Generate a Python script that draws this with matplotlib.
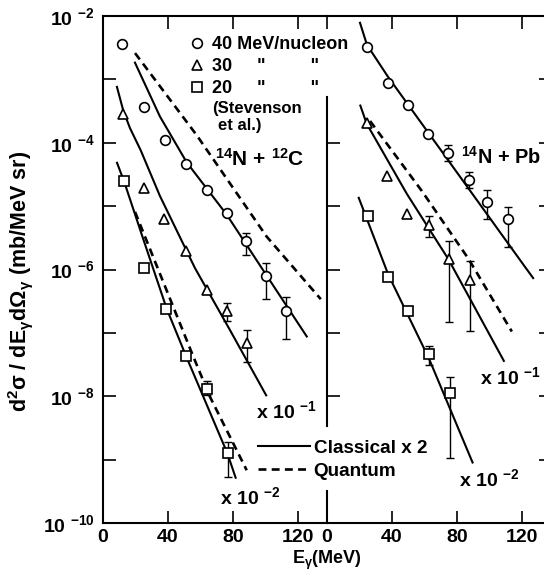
import numpy as np
import matplotlib
matplotlib.use("Agg")
import matplotlib.pyplot as plt
from matplotlib.lines import Line2D
from matplotlib.ticker import NullLocator

plt.rcParams['font.family'] = ['Liberation Sans', 'DejaVu Sans']
plt.rcParams['font.weight'] = 'bold'
plt.rcParams['mathtext.fontset'] = 'custom'
plt.rcParams['mathtext.rm'] = 'Liberation Sans:bold'
plt.rcParams['mathtext.it'] = 'Liberation Sans:italic:bold'
plt.rcParams['mathtext.bf'] = 'Liberation Sans:bold'
plt.rcParams['mathtext.default'] = 'rm'

# ---- 14N + 12C (left panel), Stevenson et al. data ----
c40_e = [11.5, 25.2, 38.3, 51.3, 64.2, 76.4, 88.0, 100.3, 112.6]
c40_y = [3.6e-3, 3.7e-4, 1.1e-4, 4.7e-5, 1.8e-5, 7.8e-6, 2.8e-6, 7.9e-7, 2.2e-7]
c40_hi = [None, None, None, None, None, None, 3.8e-6, 1.26e-6, 3.7e-7]
c40_lo = [None, None, None, None, None, None, 1.7e-6, 3.4e-7, 7.9e-8]

c30_e = [12.5, 25.3, 37.3, 50.8, 64.0, 76.3, 88.4]
c30_y = [2.8e-4, 1.95e-5, 6.2e-6, 1.95e-6, 4.8e-7, 2.2e-7, 6.9e-8]
c30_hi = [None, None, None, None, None, 2.95e-7, 1.1e-7]
c30_lo = [None, None, None, None, None, 1.55e-7, 3.5e-8]

c20_e = [13.0, 25.5, 38.8, 51.0, 64.0, 76.6]
c20_y = [2.5e-5, 1.07e-6, 2.35e-7, 4.3e-8, 1.3e-8, 1.26e-9]
c20_hi = [None, None, None, None, 1.75e-8, 1.9e-9]
c20_lo = [None, None, None, None, 1.05e-8, 5.4e-10]

# calculations (left)
c40_cl_e = [19.4, 35.0, 51.5, 76.0, 100.3, 125.7]
c40_cl_y = [1.9e-3, 2.6e-4, 4.9e-5, 7.4e-6, 8.3e-7, 8.5e-8]
c40_qu_e = [19.7, 57.6, 100.7, 134.0]
c40_qu_y = [2.6e-3, 1.32e-4, 3.3e-6, 3.4e-7]
c30_cl_e = [8.4, 12.5, 16.6, 23.2, 35.0, 56.6, 78.0, 100.7]
c30_cl_y = [7.9e-4, 3.2e-4, 1.7e-4, 7.6e-5, 1.45e-5, 1.05e-6, 1.12e-7, 1.0e-8]
c20_cl_e = [8.4, 13.1, 24.8, 39.2, 51.1, 76.5, 81.8]
c20_cl_y = [5.0e-5, 2.4e-5, 3.0e-6, 2.4e-7, 4.3e-8, 1.26e-9, 5.0e-10]
c20_qu_e = [19.7, 55.6, 65.8, 88.4]
c20_qu_y = [8.1e-6, 4.2e-8, 9.8e-9, 6.8e-10]

# ---- 14N + Pb (right panel) ----
p40_e = [24.6, 37.3, 49.6, 61.9, 74.6, 87.1, 98.6, 111.3]
p40_y = [3.2e-3, 8.9e-4, 3.9e-4, 1.38e-4, 6.9e-5, 2.6e-5, 1.17e-5, 6.2e-6]
p40_hi = [None, None, None, None, 9.3e-5, 3.5e-5, 1.8e-5, 9.8e-6]
p40_lo = [None, None, None, None, 5.2e-5, 1.95e-5, 6.2e-6, 2.3e-6]

p30_e = [24.4, 36.7, 49.0, 62.6, 74.8, 88.1]
p30_y = [2.05e-4, 2.95e-5, 7.4e-6, 5.0e-6, 1.48e-6, 6.8e-7]
p30_hi = [None, None, None, 7.1e-6, 2.8e-6, 1.38e-6]
p30_lo = [None, None, None, 3.3e-6, 1.5e-7, 1.07e-7]

p20_e = [25.5, 37.8, 50.1, 62.6, 75.5]
p20_y = [6.9e-6, 7.6e-7, 2.2e-7, 4.6e-8, 1.12e-8]
p20_hi = [None, None, None, 6.3e-8, 2.0e-8]
p20_lo = [None, None, None, 3.1e-8, 1.07e-9]

p40_cl_e = [20.1, 24.6, 37.3, 121.8, 127.2]
p40_cl_y = [8.1e-3, 3.5e-3, 1.12e-3, 1.1e-6, 7.1e-7]
p30_cl_e = [20.3, 24.4, 49.0, 74.7, 109.1]
p30_cl_y = [4.0e-4, 2.0e-4, 1.58e-5, 1.45e-6, 3.5e-8]
p30_qu_e = [26.5, 58.3, 87.0, 113.7]
p30_qu_y = [2.2e-4, 1.74e-5, 1.48e-6, 1.05e-7]
p20_cl_e = [19.3, 37.7, 62.6, 89.8]
p20_cl_y = [1.4e-5, 8.3e-7, 4.0e-8, 8.7e-10]

decades = [1e-2, 1e-3, 1e-4, 1e-5, 1e-6, 1e-7, 1e-8, 1e-9, 1e-10]
decade_labels = [r'10 $^{-2}$', '', r'10 $^{-4}$', '', r'10 $^{-6}$', '',
                 r'10 $^{-8}$', '', r'10 $^{-10}$']
e_ticks = [0, 40, 80, 120]


def points(ax, e, y, lo, hi, marker, ms):
    y = np.array(y)
    lo = np.array([np.nan if v is None else v for v in lo])
    hi = np.array([np.nan if v is None else v for v in hi])
    ax.errorbar(e, y, yerr=[y - lo, hi - y], fmt='none', ecolor='black',
                elinewidth=1.0, capsize=3, capthick=1.0, zorder=3)
    ax.plot(e, y, linestyle='none', marker=marker, ms=ms, mfc='white',
            mec='black', mew=1.2, zorder=4)


def solid(ax, e, y):
    ax.plot(e, y, color='black', lw=1.5, solid_capstyle='butt', zorder=2)


def dashed(ax, e, y):
    ax.plot(e, y, color='black', lw=1.9, dashes=(3, 2), zorder=2)


fig = plt.figure(figsize=(5.44, 5.76), dpi=100)
ax1 = fig.add_axes([103 / 544, 53 / 576, 224 / 544, 507 / 576])
ax2 = fig.add_axes([327 / 544, 53 / 576, 224 / 544, 507 / 576])
ax2.patch.set_visible(False)

for ax in (ax1, ax2):
    ax.set_yscale('log')
    ax.set_xlim(0, 137.8)
    ax.set_ylim(1e-10, 1e-2)
    ax.set_yticks(decades)
    ax.yaxis.set_minor_locator(NullLocator())
    ax.set_xticks(e_ticks)
    ax.set_xticklabels([str(t) for t in e_ticks])
    ax.tick_params(axis='x', direction='in', top=True, length=9, width=1.2,
                   labelsize=14, pad=4)
    for s in ax.spines.values():
        s.set_linewidth(1.5)

ax1.set_yticklabels(decade_labels)
ax1.tick_params(axis='y', direction='in', left=True, right=False, length=9,
                width=1.2, labelsize=14, pad=6)
ax1.spines['right'].set_visible(False)

ax2.set_yticklabels([''] * len(decades))
ax2.tick_params(axis='y', direction='in', left=False, right=True, length=9,
                width=1.2, labelleft=False)
ax2.spines['left'].set_visible(False)
# broken divider between the two panels
ax2.axvline(0, ymin=0.191, ymax=0.840, color='black', lw=1.5, clip_on=False)
ax2.axvline(0, ymin=0.0, ymax=0.063, color='black', lw=1.5, clip_on=False)
sec = ax2.secondary_yaxis('left')
sec.set_yticks([1e-4, 1e-5, 1e-6, 1e-7, 1e-8])
sec.yaxis.set_minor_locator(NullLocator())
sec.tick_params(axis='y', direction='in', length=9, width=1.2, labelleft=False)
sec.spines['left'].set_visible(False)

# left panel
points(ax1, c40_e, c40_y, c40_lo, c40_hi, 'o', 7)
points(ax1, c30_e, c30_y, c30_lo, c30_hi, '^', 7)
points(ax1, c20_e, c20_y, c20_lo, c20_hi, 's', 6.5)
solid(ax1, c40_cl_e, c40_cl_y)
dashed(ax1, c40_qu_e, c40_qu_y)
solid(ax1, c30_cl_e, c30_cl_y)
solid(ax1, c20_cl_e, c20_cl_y)
dashed(ax1, c20_qu_e, c20_qu_y)

# right panel
points(ax2, p40_e, p40_y, p40_lo, p40_hi, 'o', 7)
points(ax2, p30_e, p30_y, p30_lo, p30_hi, '^', 7)
points(ax2, p20_e, p20_y, p20_lo, p20_hi, 's', 6.5)
solid(ax2, p40_cl_e, p40_cl_y)
solid(ax2, p30_cl_e, p30_cl_y)
dashed(ax2, p30_qu_e, p30_qu_y)
solid(ax2, p20_cl_e, p20_cl_y)

# legends
mk = dict(linestyle='none', mfc='white', mec='black', mew=1.2)
h1 = [Line2D([], [], marker='o', ms=7, **mk),
      Line2D([], [], marker='^', ms=7, **mk),
      Line2D([], [], marker='s', ms=6.5, **mk)]
leg1 = ax1.legend(h1, ['40 MeV/nucleon', '30     "         "', '20     "         "'],
                  loc='upper left', bbox_to_anchor=(0.388, 0.960), frameon=False,
                  fontsize=13, handlelength=0.8, handletextpad=0.45,
                  labelspacing=0.27, borderpad=0, borderaxespad=0)
ax1.add_artist(leg1)
h2 = [Line2D([], [], color='black', lw=1.5),
      Line2D([], [], color='black', lw=1.9, dashes=(3, 2))]
ax1.legend(h2, [r'Classical x 2', 'Quantum'], loc='upper left',
           bbox_to_anchor=(0.692, 0.164), frameon=False, fontsize=13.6,
           handlelength=2.75, handletextpad=0.2, labelspacing=0.3,
           borderpad=0, borderaxespad=0)

ax1.text(67.1, 3.5e-4, '(Stevenson', fontsize=12, va='center')
ax1.text(70.8, 1.9e-4, 'et al.)', fontsize=12, va='center')
ax1.text(68.9, 5.5e-5, r'$^{14}$N + $^{12}$C', fontsize=15, va='center')
ax1.text(94.2, 5.8e-9, r'x 10 $^{-1}$', fontsize=14, va='center')
ax1.text(72.0, 2.6e-10, r'x 10 $^{-2}$', fontsize=14, va='center')
ax2.text(82.5, 5.9e-5, r'$^{14}$N + Pb', fontsize=14.3, va='center')
ax2.text(94.2, 2.0e-8, r'x 10 $^{-1}$', fontsize=14, va='center')
ax2.text(81.2, 4.9e-10, r'x 10 $^{-2}$', fontsize=14, va='center')

fig.text(21 / 544, 1 - 281 / 576,
         r'd$^2\sigma$ / dE$_\gamma$d$\Omega_\gamma$ (mb/MeV sr)',
         rotation=90, ha='center', va='center', fontsize=15.5)
fig.text(327 / 544, 1 - 560 / 576, r'E$_\gamma$(MeV)', ha='center',
         va='center', fontsize=13)

fig.savefig('out.png', dpi=100)
